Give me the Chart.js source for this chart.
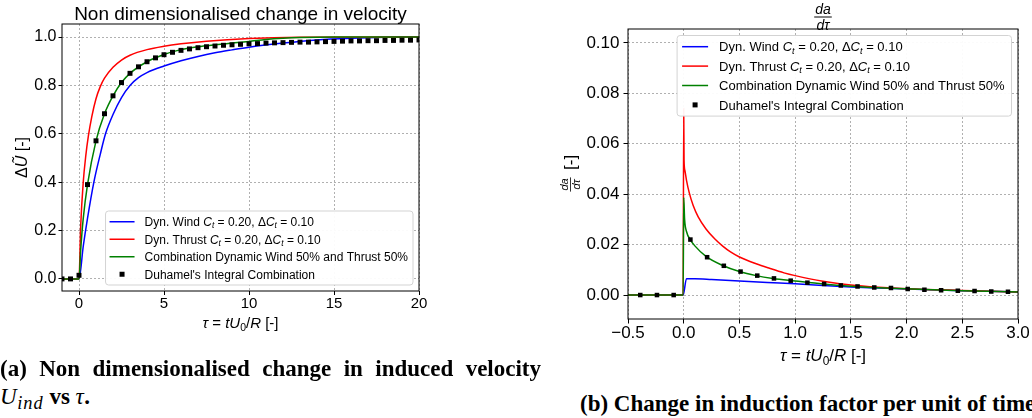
<!DOCTYPE html>
<html>
<head>
<meta charset="utf-8">
<script src="https://cdn.jsdelivr.net/npm/chart.js@4/dist/chart.umd.min.js"></script>
<style>
  html, body { margin: 0; padding: 0; background: #fff; width: 1032px; height: 418px; overflow: hidden; }
  body { position: relative; }
  canvas { position: absolute; }
  #chartA { left: 0; top: 0; }
  #chartB { left: 540px; top: 0; }
  .cap { position: absolute; font-family: "Liberation Serif", "Times New Roman", serif; font-weight: bold;
         font-size: 23px; line-height: 23px; color: #000; white-space: nowrap; }
  #capA1 { left: 0; top: 357px; width: 541px; white-space: normal; text-align: justify; text-align-last: justify; }
  #capA2 { left: 0; top: 385px; }
  #capB  { left: 580px; top: 392px; }
  .m { font-style: italic; font-weight: normal; letter-spacing: 0.5px; }
  .sb { font-size: 0.8em; position: relative; top: 0.28em; letter-spacing: 1px; }
</style>
</head>
<body>
<canvas id="chartA" width="430" height="340"></canvas>
<canvas id="chartB" width="492" height="370"></canvas>
<div class="cap" id="capA1">(a) Non dimensionalised change in induced velocity</div>
<div class="cap" id="capA2"><span class="m">U<span class="sb">ind</span></span> vs <span class="m">τ</span>.</div>
<div class="cap" id="capB">(b) Change in induction factor per unit of time</div>

<script>
const FONT = '"Liberation Sans", Arial, Helvetica, sans-serif';

// ---------- labels ----------
const LABEL_WIND = 'Dyn. Wind $C_t$ = 0.20, Δ$C_t$ = 0.10';
const LABEL_THRUST = 'Dyn. Thrust $C_t$ = 0.20, Δ$C_t$ = 0.10';
const LABEL_COMB = 'Combination Dynamic Wind 50% and Thrust 50%';
const LABEL_DUHAMEL = "Duhamel's Integral Combination";
const A_TITLE = 'Non dimensionalised change in velocity';
const A_Y_LABEL = '$ΔŨ$ [-]';
const X_LABEL = '$τ = tU_0/R$ [-]';

// ---------- panel (a): ΔŨ vs τ ----------
const A_X_TICKS = [0, 5, 10, 15, 20];
const A_Y_TICKS = [0, 0.2, 0.4, 0.6, 0.8, 1.0];

const A_TAU_WIND = [-1, 0, 0.25, 0.5, 0.875, 1.25, 1.56, 2, 2.5, 3, 3.5, 4, 5, 6, 7, 8, 9, 10, 12, 14, 16, 18, 20];
const A_DU_WIND  = [0, 0, 0.135, 0.25, 0.4, 0.515, 0.6, 0.68, 0.75, 0.8, 0.832, 0.853, 0.88, 0.902, 0.92, 0.935, 0.947, 0.958, 0.975, 0.988, 0.995, 0.999, 1.0];

const A_TAU_THRUST = [-1, 0, 0.1, 0.25, 0.4, 0.55, 0.75, 1, 1.25, 1.5, 2, 2.5, 3, 4, 5, 6, 7.5, 10, 13, 20];
const A_DU_THRUST  = [0, 0, 0.22, 0.4, 0.51, 0.59, 0.67, 0.745, 0.795, 0.83, 0.875, 0.905, 0.925, 0.948, 0.962, 0.972, 0.983, 0.994, 0.999, 1.0];

const A_TAU_COMB = [-1, 0, 0.1, 0.25, 0.5, 1, 1.5, 2, 2.5, 3, 4, 5, 6, 7, 8, 9, 10, 11, 12, 13, 15, 20];
const A_DU_COMB  = [0, 0, 0.12, 0.25, 0.39, 0.571, 0.683, 0.757, 0.812, 0.85, 0.898, 0.928, 0.948, 0.96, 0.968, 0.975, 0.982, 0.99, 0.995, 0.998, 1.0, 1.0];

const A_TAU_DUHAMEL = [-1, -0.5, 0, 0.5, 1, 1.5, 2, 2.5, 3, 3.5, 4, 4.5, 5, 5.5, 6, 6.5, 7, 7.5, 8, 8.5, 9, 9.5, 10,
                       10.5, 11, 11.5, 12, 12.5, 13, 13.5, 14, 14.5, 15, 15.5, 16, 16.5, 17, 17.5, 18, 18.5, 19, 19.5, 20];
const A_DU_DUHAMEL  = [0, 0, 0.015, 0.39, 0.571, 0.683, 0.757, 0.812, 0.85, 0.877, 0.898, 0.914, 0.927, 0.937, 0.945, 0.951, 0.956, 0.96, 0.963, 0.966, 0.968, 0.970, 0.972,
                       0.973, 0.975, 0.976, 0.977, 0.978, 0.979, 0.979, 0.98, 0.981, 0.982, 0.983, 0.984, 0.984, 0.985, 0.985, 0.986, 0.986, 0.987, 0.987, 0.988];

// ---------- panel (b): da/dτ vs τ ----------
const B_X_TICKS = [-0.5, 0, 0.5, 1, 1.5, 2, 2.5, 3];
const B_Y_TICKS = [0, 0.02, 0.04, 0.06, 0.08, 0.10];

const B_TAU_WIND = [-0.5, -0.005, 0.025, 0.1, 0.25, 0.5, 0.75, 1, 1.25, 1.5, 1.75, 2, 2.5, 3];
const B_DA_WIND  = [0, 0, 0.0065, 0.0065, 0.0062, 0.0056, 0.0050, 0.0045, 0.0038, 0.0032, 0.0028, 0.0024, 0.0017, 0.0012];

const B_TAU_THRUST = [-0.5, -0.005, 0, 0.003, 0.01, 0.025, 0.05, 0.085, 0.13, 0.2, 0.28, 0.35, 0.42, 0.5, 0.65, 0.77, 0.9, 1, 1.25, 1.5, 1.75, 2, 2.5, 3];
const B_DA_THRUST  = [0, 0, 0.074, 0.0536, 0.0495, 0.0455, 0.0405, 0.0355, 0.031, 0.0262, 0.0222, 0.0194, 0.0171, 0.0151, 0.0124, 0.0106, 0.0088, 0.0077, 0.0055, 0.0040, 0.0031, 0.0025, 0.0018, 0.0012];

const B_TAU_COMB = [-0.5, -0.005, 0, 0.008, 0.025, 0.06, 0.1, 0.2, 0.35, 0.5, 0.65, 0.8, 1, 1.25, 1.5, 1.75, 2, 2.5, 3];
const B_DA_COMB  = [0, 0, 0.0387, 0.030, 0.0252, 0.0219, 0.0195, 0.0153, 0.0117, 0.0093, 0.0077, 0.0066, 0.0056, 0.0044, 0.0035, 0.0029, 0.0025, 0.0017, 0.0012];

const B_TAU_DUHAMEL = [-0.39, -0.24, -0.09, 0.06, 0.21, 0.36, 0.51, 0.66, 0.81, 0.96, 1.11, 1.26, 1.41, 1.56, 1.71, 1.86, 2.01, 2.16, 2.31, 2.46, 2.61, 2.76, 2.91];
const B_DA_DUHAMEL  = [0, 0, 0, 0.022, 0.015, 0.0116, 0.0093, 0.0077, 0.0066, 0.0057, 0.0049, 0.0044, 0.0038, 0.0034, 0.0030, 0.0028, 0.0024, 0.0021, 0.0019, 0.0017, 0.0016, 0.0014, 0.0013];

// ---------- rich text (maths-style labels) ----------
function parseMath(s) {
  const segs = [];
  s.split('$').forEach((part, i) => {
    if (i % 2 === 0) { if (part) segs.push({ t: part }); return; }
    for (let j = 0; j < part.length; j++) {
      const c = part[j];
      if (c === '_') { const n = part[++j]; segs.push({ t: n, it: /[A-Za-zα-ω]/.test(n), sub: true }); continue; }
      segs.push({ t: c, it: /[A-Za-zα-ωŨ]/.test(c) });
    }
  });
  return segs;
}
function segFont(seg, size) {
  return (seg.it ? 'italic ' : '') + (seg.sub ? size * 0.7 : size) + 'px ' + FONT;
}
function richWidth(ctx, segs, size) {
  let w = 0;
  segs.forEach(s => { ctx.font = segFont(s, size); w += ctx.measureText(s.t).width; });
  return w;
}
function drawRich(ctx, segs, x, yMid, size, align) {
  const w = richWidth(ctx, segs, size);
  let cx = align === 'center' ? x - w / 2 : x;
  const base = yMid + size * 0.36;
  ctx.textBaseline = 'alphabetic';
  ctx.textAlign = 'left';
  ctx.fillStyle = '#000';
  segs.forEach(s => {
    ctx.font = segFont(s, size);
    ctx.fillText(s.t, cx, base + (s.sub ? size * 0.2 : 0));
    cx += ctx.measureText(s.t).width;
  });
}
function drawFrac(ctx, num, den, cx, barY, size) {
  ctx.font = 'italic ' + size + 'px ' + FONT;
  ctx.fillStyle = '#000';
  ctx.strokeStyle = '#000';
  ctx.textAlign = 'center';
  ctx.textBaseline = 'alphabetic';
  const w = Math.max(ctx.measureText(num).width, ctx.measureText(den).width) + 2;
  ctx.fillText(num, cx, barY - size * 0.22);
  ctx.fillText(den, cx, barY + size * 0.9);
  ctx.beginPath();
  ctx.lineWidth = Math.max(0.8, size * 0.07);
  ctx.moveTo(cx - w / 2, barY);
  ctx.lineTo(cx + w / 2, barY);
  ctx.stroke();
}

// ---------- plugins ----------
// Full box around the plot area plus a legend placed inside it.
const frameAndLegend = {
  id: 'frameAndLegend',
  afterDatasetsDraw(chart, args, o) {
    const ctx = chart.ctx, a = chart.chartArea;
    ctx.save();
    ctx.strokeStyle = '#000';
    ctx.lineWidth = 1;
    ctx.strokeRect(a.left, a.top, a.right - a.left, a.bottom - a.top);

    const items = chart.data.datasets.map(d => ({ d, segs: parseMath(d.label) }));
    const tw = Math.max(...items.map(it => richWidth(ctx, it.segs, o.size)));
    const w = o.textX + tw + o.padR;
    const h = items.length * o.rowH + 2 * o.padV;
    const x = a.right - o.inset - w;
    const y = o.corner === 'top' ? a.top + o.inset : a.bottom - o.inset - h;
    ctx.beginPath();
    ctx.roundRect(x, y, w, h, 3);
    ctx.fillStyle = 'rgba(255,255,255,0.94)';
    ctx.fill();
    ctx.strokeStyle = '#d3d3d3';
    ctx.lineWidth = 1;
    ctx.stroke();
    items.forEach((it, k) => {
      const cy = y + o.padV + o.rowH * (k + 0.5);
      if (it.d.showLine) {
        ctx.beginPath();
        ctx.moveTo(x + o.h0, cy);
        ctx.lineTo(x + o.h1, cy);
        ctx.strokeStyle = it.d.borderColor;
        ctx.lineWidth = it.d.borderWidth;
        ctx.stroke();
      } else {
        const s = o.mark;
        ctx.fillStyle = it.d.pointBackgroundColor;
        ctx.fillRect(x + (o.h0 + o.h1) / 2 - s / 2, cy - s / 2, s, s);
      }
      drawRich(ctx, it.segs, x + o.textX, cy, o.size, 'left');
    });
    ctx.restore();
  }
};

const panelALabels = {
  id: 'panelALabels',
  afterDraw(chart) {
    const ctx = chart.ctx, a = chart.chartArea, cx = (a.left + a.right) / 2;
    ctx.save();
    drawRich(ctx, parseMath(A_TITLE), cx, 13, 19, 'center');
    drawRich(ctx, parseMath(X_LABEL), cx, a.bottom + 32, 15, 'center');
    ctx.translate(21, (a.top + a.bottom) / 2);
    ctx.rotate(-Math.PI / 2);
    drawRich(ctx, parseMath(A_Y_LABEL), 0, 0, 16, 'center');
    ctx.restore();
  }
};

const panelBLabels = {
  id: 'panelBLabels',
  afterDraw(chart) {
    const ctx = chart.ctx, a = chart.chartArea, cx = (a.left + a.right) / 2;
    ctx.save();
    drawFrac(ctx, 'da', 'dτ', cx, 17, 14);
    drawRich(ctx, parseMath(X_LABEL), cx, a.bottom + 36, 17, 'center');
    ctx.translate(30, (a.top + a.bottom) / 2);
    ctx.rotate(-Math.PI / 2);
    drawFrac(ctx, 'da', 'dτ', -10.5, 0.5, 11);
    drawRich(ctx, [{ t: '[-]' }], 4, -0.5, 17, 'left');
    ctx.restore();
  }
};

// ---------- helpers ----------
const pts = (xs, ys) => xs.map((x, i) => ({ x, y: ys[i] }));

function lineSet(label, xs, ys, color, order) {
  return { label, data: pts(xs, ys), showLine: true, borderColor: color, backgroundColor: color,
           borderWidth: 1.5, pointRadius: 0, cubicInterpolationMode: 'monotone', order };
}
function squareSet(label, xs, ys, r) {
  return { label, data: pts(xs, ys), showLine: false, pointStyle: 'rect', pointRadius: r,
           pointBackgroundColor: '#000', pointBorderWidth: 0, borderColor: '#000', order: 0 };
}
function axis(min, max, tickVals, fmt, fontSize, tickLen, pad, fixedSize, horizontal) {
  return {
    type: 'linear', min, max,
    afterBuildTicks: s => { s.ticks = tickVals.map(v => ({ value: v })); },
    ticks: { callback: v => fmt(v), font: { family: FONT, size: fontSize }, color: '#000',
             padding: pad, maxRotation: 0, autoSkip: false },
    grid: { color: '#b0b0b0', lineWidth: 1, tickLength: tickLen, tickColor: '#000', tickWidth: 1 },
    border: { display: false, dash: [2, 2] },
    afterFit: s => {
      if (horizontal) { s.height = fixedSize; s.paddingLeft = 0; s.paddingRight = 0; }
      else { s.width = fixedSize; s.paddingTop = 0; s.paddingBottom = 0; }
    }
  };
}

Chart.defaults.font.family = FONT;

// ---------- panel (a) ----------
new Chart(document.getElementById('chartA'), {
  type: 'scatter',
  data: {
    datasets: [
      lineSet(LABEL_WIND, A_TAU_WIND, A_DU_WIND, '#0000ff', 3),
      lineSet(LABEL_THRUST, A_TAU_THRUST, A_DU_THRUST, '#ff0000', 2),
      lineSet(LABEL_COMB, A_TAU_COMB, A_DU_COMB, '#008000', 1),
      squareSet(LABEL_DUHAMEL, A_TAU_DUHAMEL, A_DU_DUHAMEL, 3.5)
    ]
  },
  options: {
    responsive: false, animation: false, events: [], devicePixelRatio: 1,
    layout: { padding: { left: 0, right: 11, top: 24, bottom: 0 } },
    scales: {
      x: axis(-1, 20, A_X_TICKS, v => String(v), 15, 4, 0, 49, true),
      y: axis(-0.05, 1.054, A_Y_TICKS, v => v.toFixed(1), 16, 3.5, 2, 62, false)
    },
    plugins: {
      legend: { display: false }, tooltip: { enabled: false },
      frameAndLegend: { corner: 'bottom', size: 12, rowH: 17.5, padV: 2, inset: 6,
                        h0: 4, h1: 29, textX: 39, padR: 5, mark: 5 }
    }
  },
  plugins: [frameAndLegend, panelALabels]
});

// ---------- panel (b) ----------
new Chart(document.getElementById('chartB'), {
  type: 'scatter',
  data: {
    datasets: [
      lineSet(LABEL_WIND, B_TAU_WIND, B_DA_WIND, '#0000ff', 3),
      lineSet(LABEL_THRUST, B_TAU_THRUST, B_DA_THRUST, '#ff0000', 2),
      lineSet(LABEL_COMB, B_TAU_COMB, B_DA_COMB, '#008000', 1),
      squareSet(LABEL_DUHAMEL, B_TAU_DUHAMEL, B_DA_DUHAMEL, 3.2)
    ]
  },
  options: {
    responsive: false, animation: false, events: [], devicePixelRatio: 1,
    layout: { padding: { left: 0, right: 14, top: 29, bottom: 0 } },
    scales: {
      x: axis(-0.5, 3.0, B_X_TICKS, v => v.toFixed(1).replace('-', '−'), 17, 4.5, 0, 51, true),
      y: axis(-0.0095, 0.1055, B_Y_TICKS, v => v.toFixed(2), 17, 4.5, 4, 88, false)
    },
    plugins: {
      legend: { display: false }, tooltip: { enabled: false },
      frameAndLegend: { corner: 'top', size: 13, rowH: 19.4, padV: 1.5, inset: 6.5,
                        h0: 5, h1: 31, textX: 42, padR: 7, mark: 5 }
    }
  },
  plugins: [frameAndLegend, panelBLabels]
});
</script>
</body>
</html>
